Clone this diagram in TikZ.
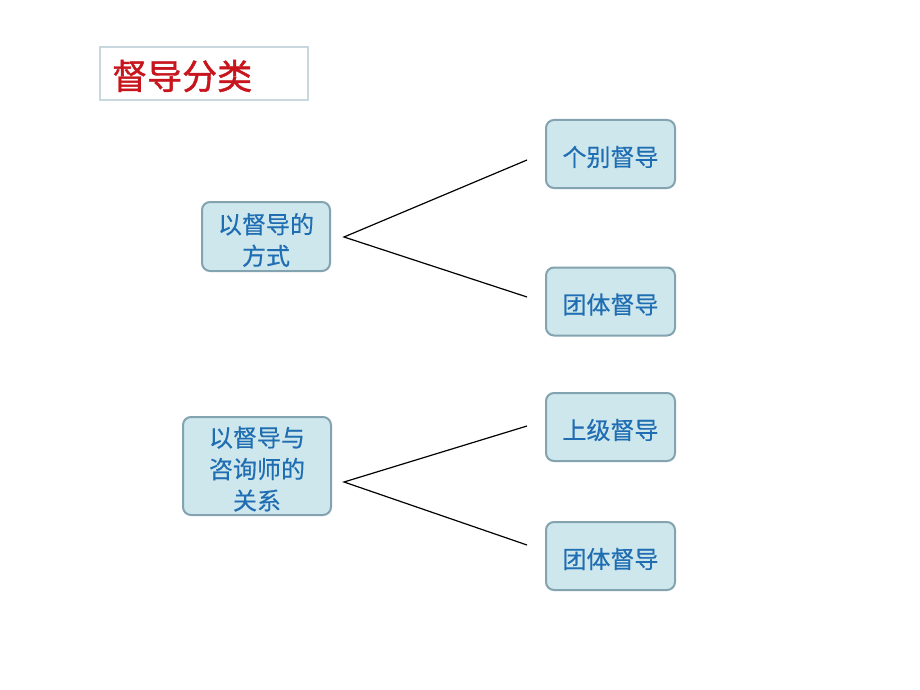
\documentclass[tikz,border=0pt]{standalone}
\usepackage{fontspec}
\newfontfamily\cjk{Noto Sans CJK SC}
\newfontfamily\cjktitle[FakeBold=1.2]{Noto Sans CJK SC}
\newfontfamily\cjkbox[FakeBold=0.4]{Noto Sans CJK SC}
\definecolor{boxfill}{HTML}{CDE7EC}
\definecolor{boxdraw}{HTML}{84A3B0}
\definecolor{txtblue}{HTML}{1F6DB3}
\definecolor{titlered}{HTML}{C8141C}
\definecolor{titleframe}{HTML}{C9D8DE}
\begin{document}
\begin{tikzpicture}[x=1pt,y=-1pt,
  cbox/.style={draw=boxdraw, line width=2pt, fill=boxfill, rounded corners=8pt, inner sep=0pt},
  ctext/.style={font=\cjkbox\fontsize{24}{31.5}\selectfont, text=txtblue, align=center, inner sep=0pt},
  link/.style={draw=black, line width=1.2pt}]
\useasboundingbox[fill=white] (0,0) rectangle (920,690);
% title
\node[draw=titleframe, line width=1.4pt, minimum width=208pt, minimum height=53pt, inner sep=0pt] (title) at (204,73.5) {};
\node[anchor=west, text=titlered, font=\cjktitle\fontsize{35}{40}\selectfont, inner sep=0pt] (titletxt) at (112,76) {督导分类};
% boxes
\node[cbox, minimum width=128pt, minimum height=69pt] (m1) at (266,236.5) {};
\node[cbox, minimum width=148pt, minimum height=98pt] (m2) at (257,466) {};
\node[cbox, minimum width=129pt, minimum height=68pt] (a1) at (610.5,154) {};
\node[cbox, minimum width=129pt, minimum height=68pt] (a2) at (610.5,301.5) {};
\node[cbox, minimum width=129pt, minimum height=68pt] (b1) at (610.5,427) {};
\node[cbox, minimum width=129pt, minimum height=68pt] (b2) at (610.5,556) {};
% texts
\node[ctext] (m1t) at ([yshift=-3.5pt]m1.center) {以督导的\\方式};
\node[ctext] (m2t) at ([yshift=-3pt]m2.center) {以督导与\\咨询师的\\关系};
\node[ctext] (a1t) at ([yshift=-3pt]a1.center) {个别督导};
\node[ctext] (a2t) at ([yshift=-3pt]a2.center) {团体督导};
\node[ctext] (b1t) at ([yshift=-3pt]b1.center) {上级督导};
\node[ctext] (b2t) at ([yshift=-3pt]b2.center) {团体督导};
% connector end points
\coordinate (p1) at (344,237);
\coordinate (q1) at (527,160);
\coordinate (q2) at (527,297);
\coordinate (p2) at (344,482);
\coordinate (r1) at (527,426);
\coordinate (r2) at (527,545);
\draw[link] (q1) -- (p1) -- (q2);
\draw[link] (r1) -- (p2) -- (r2);
\end{tikzpicture}
\end{document}
